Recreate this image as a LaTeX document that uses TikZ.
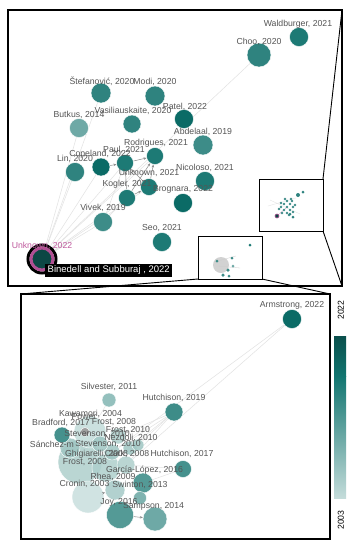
\documentclass[tikz,border=0pt]{standalone}
\usepackage{fontspec}
\setmainfont{Liberation Sans}
\usetikzlibrary{arrows.meta,backgrounds}
\definecolor{cA}{HTML}{0B6B66}
\definecolor{cB}{HTML}{1D7A75}
\definecolor{cC}{HTML}{2F837F}
\definecolor{cD}{HTML}{3D8C88}
\definecolor{cE}{HTML}{45918D}
\definecolor{cF}{HTML}{549A96}
\definecolor{cG}{HTML}{6EA9A6}
\definecolor{cH}{HTML}{7FB3B0}
\definecolor{cI}{HTML}{94C0BD}
\definecolor{cJ}{HTML}{9FC6C3}
\definecolor{cK}{HTML}{A5CAC7}
\definecolor{cL}{HTML}{AECFCC}
\definecolor{cM}{HTML}{C3DCDA}
\definecolor{cN}{HTML}{CBE1DF}
\definecolor{labgray}{HTML}{555555}
\definecolor{upink}{HTML}{B04F92}
\definecolor{utext}{HTML}{C05A9E}
\definecolor{udark}{HTML}{0C4744}
\definecolor{edgelight}{HTML}{E2E2E2}
\definecolor{edgemid}{HTML}{8C8C8C}
\definecolor{barTop}{HTML}{0A4F4C}
\definecolor{barMid}{HTML}{117570}
\definecolor{barBot}{HTML}{C4DCDA}
\begin{document}
\begin{tikzpicture}[x=1pt,y=-1pt,
  nd/.style={circle, inner sep=0pt, draw=white, line width=0.4pt, minimum size=#1},
  lab/.style={text=labgray, font=\fontsize{8.7}{9}\selectfont, inner sep=0pt},
  faint/.style={draw=edgelight, line width=0.5pt},
  citeedge/.style={draw=edgemid, line width=0.5pt, -{Stealth[length=3pt,width=2.5pt]}},
  panel/.style={draw=black, line width=1.6pt},
  zoomline/.style={draw=black, line width=0.9pt},
  insetbox/.style={draw=black, line width=0.9pt, fill=white},
  dot/.style={circle, inner sep=0pt, minimum size=#1}]
\useasboundingbox (0,0) rectangle (354,550);
\begin{pgfonlayer}{background}
\fill[white] (0,0) rectangle (354,550);
\end{pgfonlayer}

% ---------- top panel nodes ----------
\node[nd=19pt, fill=cB] (wald) at (299,37) {};
\node[nd=24pt, fill=cC] (choo) at (259,55) {};
\node[nd=20pt, fill=cC] (stef) at (101,93) {};
\node[nd=20pt, fill=cC] (modi) at (155,96) {};
\node[nd=18pt, fill=cC] (vasi) at (132,124) {};
\node[nd=19pt, fill=cA] (patel) at (184,119) {};
\node[nd=19pt, fill=cG] (butkus) at (79,128) {};
\node[nd=20pt, fill=cD] (abdel) at (203,145) {};
\node[nd=17pt, fill=cB] (rodr) at (155,156) {};
\node[nd=17pt, fill=cB] (paul) at (125,163) {};
\node[nd=18pt, fill=cA] (cope) at (101,167) {};
\node[nd=19pt, fill=cC] (lin) at (75,172) {};
\node[nd=19pt, fill=cB] (nico) at (205,181) {};
\node[nd=17pt, fill=cB] (unkA) at (149,187) {};
\node[nd=17pt, fill=cB] (kogler) at (127,198) {};
\node[nd=19pt, fill=cA] (brog) at (183,203) {};
\node[nd=19pt, fill=cD] (vivek) at (103,222) {};
\node[nd=19pt, fill=cB] (seo) at (162,242) {};
\node[circle, inner sep=0pt, minimum size=28pt, draw=black, line width=3pt] (unkring) at (42,259) {};
\node[circle, inner sep=0pt, minimum size=22pt, fill=udark, draw=upink, line width=3pt] (unkB) at (42,259) {};

% labels
\node[lab] (lwald) at (298,24) {Waldburger, 2021};
\node[lab] (lchoo) at (259,42) {Choo, 2020};
\node[lab] (lstef) at (102,81) {Štefanović, 2020};
\node[lab] (lmodi) at (155,82) {Modi, 2020};
\node[lab] (lvasi) at (133,111) {Vasiliauskaite, 2020};
\node[lab] (lpatel) at (185,107) {Patel, 2022};
\node[lab] (lbutkus) at (79,115) {Butkus, 2014};
\node[lab] (labdel) at (203,132) {Abdelaal, 2019};
\node[lab] (lrodr) at (156,143) {Rodrigues, 2021};
\node[lab] (lpaul) at (124,150) {Paul, 2021};
\node[lab] (lcope) at (100,154) {Copeland, 2022};
\node[lab] (llin) at (75,159) {Lin, 2020};
\node[lab] (lnico) at (205,168) {Nicoloso, 2021};
\node[lab] (lunkA) at (149,173) {Unknown, 2021};
\node[lab] (lkogler) at (127,184) {Kogler, 2021};
\node[lab] (lbrog) at (183,189) {Brognara, 2022};
\node[lab] (lvivek) at (103,208) {Vivek, 2019};
\node[lab] (lseo) at (162,228) {Seo, 2021};
\node[lab, text=utext] (lunkB) at (42,246) {Unknown, 2022};

% edges top panel
\begin{pgfonlayer}{background}
\foreach \t in {lin,cope,paul,rodr,kogler,vivek,unkA,choo,butkus,stef}
  \draw[faint] (unkring) -- (\t);
\draw[faint] (vivek) -- (kogler);
\draw[faint] (vivek) -- (paul);
\draw[citeedge] (paul) -- (rodr);
\draw[citeedge] (cope) -- (paul);
\draw[citeedge] (kogler) -- (paul);
\draw[citeedge] (kogler) -- (rodr);
\draw[citeedge] (unkA) -- (rodr);
\draw[citeedge] (kogler) -- (unkA);
\draw[citeedge] (unkA) -- (paul);
\end{pgfonlayer}

% ---------- insets ----------
\draw[insetbox] (259,179) rectangle (323,231);
\draw[insetbox] (198,236) rectangle (262,279);
\draw[upink!60, line width=0.3pt] (277,216) -- (287,207);
\draw[edgelight, line width=0.3pt] (270,200) -- (300,214) (268,206) -- (296,198);
\foreach \dx/\dy in {0/0,3/-3,-3/-3,3/3,-3/3,6/0,-6/0,0/6,0/-6,5/-6,-5/6,6/5,-6/-4,8/-2,-8/2,2/8,4/-8,-2/-8}
  \fill[cD] (287+\dx,207+\dy) circle (1.4pt);
\node[dot=4pt, fill=cC] (i1a) at (298,195) {};
\node[dot=3pt, fill=cC] (i1b) at (303,192) {};
\node[dot=3pt, fill=cC] (i1c) at (290,214) {};
\node[dot=3pt, fill=cC] (i1d) at (293,217) {};
\node[dot=4pt, fill=udark, draw=upink, line width=0.6pt] (i1p) at (277,216) {};
\fill[gray!35] (221,265) circle (8pt);
\draw[gray!40, line width=0.3pt] (214,262) -- (236,256) (218,266) -- (240,268);
\node[dot=3pt, fill=cB] (i2a) at (250,245) {};
\node[dot=3pt, fill=cD] (i2b) at (232,258) {};
\node[dot=3.5pt, fill=cD] (i2c) at (228,270) {};
\node[dot=3.5pt, fill=cD] (i2d) at (223,275) {};
\node[dot=3pt, fill=cG] (i2e) at (233,266) {};
\node[dot=3pt, fill=cD] (i2f) at (217,261) {};
\node[dot=3pt, fill=cD] (i2g) at (229,276) {};

% ---------- panels and zoom lines ----------
\draw[panel] (8,10) rectangle (342,286);
\coordinate (ptr) at (342,10);
\coordinate (pbr) at (342,286);
\coordinate (qtl) at (21,294);
\coordinate (qtr) at (330,294);
\draw[zoomline] (323,179) -- (ptr);
\draw[zoomline] (323,231) -- (pbr);
\draw[zoomline] (198,279) -- (qtl);
\draw[zoomline] (262,279) -- (qtr);
\draw[panel] (21,294) rectangle (330,539);

% black tooltip
\node[fill=black, text=white, font=\fontsize{9.5}{10}\selectfont, inner sep=2.5pt, anchor=west] (tip) at (45,270.5) {Binedell and Subburaj , 2022};

% ---------- lower panel nodes ----------
\node[nd=19pt, fill=cA] (arm) at (292,319) {};
\node[nd=14pt, fill=cI] (silv) at (109,400) {};
\node[nd=18pt, fill=cD] (hutA) at (174,412) {};
\node[nd=44pt, fill=cL, fill opacity=0.85] (frostC) at (80,462) {};
\node[nd=32pt, fill=cM, fill opacity=0.85] (kaw) at (90,432) {};
\node[nd=32pt, fill=cN, fill opacity=0.9] (cronin) at (88,497) {};
\node[nd=28pt, fill=cL, fill opacity=0.85] (ghig) at (106,468) {};
\node[nd=20pt, fill=cJ, fill opacity=0.85] (sanchez) at (70,448) {};
\node[nd=18pt, fill=cL, fill opacity=0.85] (clark) at (126,465) {};
\node[nd=16pt, fill=cJ, fill opacity=0.85] (stevB) at (112,452) {};
\node[nd=16pt, fill=cJ, fill opacity=0.85] (stevA) at (100,444) {};
\node[nd=16pt, fill=cL, fill opacity=0.85] (frostA) at (118,436) {};
\node[nd=14pt, fill=cJ, fill opacity=0.85] (frostB) at (130,448) {};
\node[nd=12pt, fill=cJ, fill opacity=0.85] (nezd) at (138,445) {};
\node[nd=20pt, fill=cK, fill opacity=0.85] (rhea) at (115,490) {};
\node[nd=9pt, fill=gray!75] (power) at (85,432) {};
\node[nd=16pt, fill=cE] (brad) at (62,435) {};
\node[nd=20pt, fill=cF] (garcia) at (143,483) {};
\node[nd=13pt, fill=cH] (swin) at (140,498) {};
\node[nd=17pt, fill=cE] (hutB) at (183,469) {};
\node[nd=27pt, fill=cF] (joy) at (120,515) {};
\node[nd=24pt, fill=cG] (samp) at (155,519) {};

\begin{pgfonlayer}{background}
\draw[faint] (arm) -- (stevB);
\draw[faint] (arm) -- (clark);
\foreach \t in {frostB,nezd,clark,stevB,stevA}
  \draw[faint] (hutA) -- (\t);
\draw[faint] (hutB) -- (clark);
\draw[faint] (hutB) -- (garcia);
\draw[faint] (silv) -- (kaw);
\end{pgfonlayer}
\draw[citeedge] (cronin) -- (rhea);
\draw[citeedge] (joy) -- (samp);

\node[lab] (larm) at (292,305) {Armstrong, 2022};
\node[lab] (lsilv) at (109,387) {Silvester, 2011};
\node[lab] (lhutA) at (174,398) {Hutchison, 2019};
\node[lab] (lkaw) at (90.5,414) {Kawamori, 2004};
\node[lab] (lpower) at (84,417) {Power};
\node[lab] (lbrad) at (61,423) {Bradford, 2017};
\node[lab] (lfrostA) at (114,422) {Frost, 2008};
\node[lab] (lstevA) at (97,434) {Stevenson, 2010};
\node[lab] (lfrostB) at (128,430) {Frost, 2010};
\node[lab] (lnezd) at (131,438) {Nezdoli, 2010};
\node[lab] (lsanchez) at (52,444) {Sánchez-m};
\node[lab] (lstevB) at (108,444) {Stevenson, 2010};
\node[lab] (lghig) at (96.5,454) {Ghigiarelli, 2008};
\node[lab] (lclark) at (127,454) {Clark, 2008};
\node[lab] (lhutB) at (182,454) {Hutchison, 2017};
\node[lab] (lfrostC) at (85,462) {Frost, 2008};
\node[lab] (lgarcia) at (144.5,470) {García-López, 2016};
\node[lab] (lrhea) at (113,477) {Rhea, 2009};
\node[lab] (lcronin) at (84.5,484) {Cronin, 2003};
\node[lab] (lswin) at (140,485) {Swinton, 2013};
\node[lab] (ljoy) at (119,502) {Joy, 2016};
\node[lab] (lsamp) at (153.5,506) {Sampson, 2014};

% ---------- colour bar ----------
\shade[top color=barTop, bottom color=barMid] (334,336) rectangle (346,376);
\shade[top color=barMid, bottom color=barBot] (334,376) rectangle (346,498);
\node[rotate=90, font=\fontsize{8.7}{9}\selectfont, inner sep=0pt] (y22) at (341,310) {2022};
\node[rotate=90, font=\fontsize{8.7}{9}\selectfont, inner sep=0pt] (y03) at (341,520) {2003};
\end{tikzpicture}
\end{document}
